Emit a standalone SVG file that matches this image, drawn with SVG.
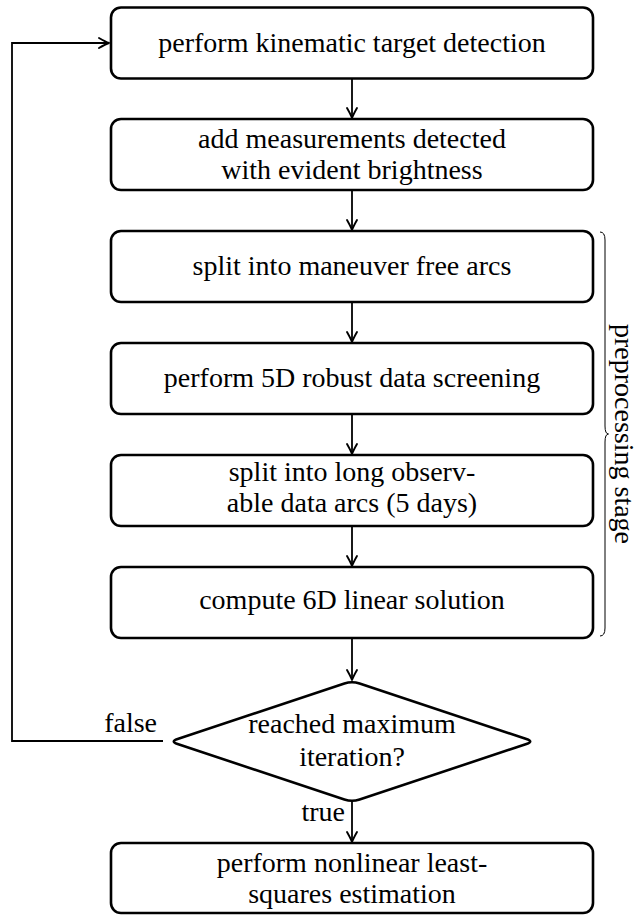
<svg xmlns="http://www.w3.org/2000/svg" width="640" height="916" viewBox="0 0 640 916">
<style>
.box{fill:#fff;stroke:#000;stroke-width:2.6}
.t{font-family:"Liberation Serif","Times New Roman",serif;font-size:28px;fill:#000;text-anchor:middle}
.lbl{font-family:"Liberation Serif","Times New Roman",serif;font-size:28px;fill:#000}
.c{fill:none;stroke:#000;stroke-width:1.8}
</style>
<defs>
<marker id="ah" markerUnits="userSpaceOnUse" viewBox="-12 -7 14 14" markerWidth="14" markerHeight="14" refX="0" refY="0" orient="auto" overflow="visible">
<path d="M -10 -5 Q -3.5 -1.3 0 0 Q -3.5 1.3 -10 5" fill="none" stroke="#000" stroke-width="1.9" stroke-linecap="round" stroke-linejoin="round"/>
</marker>
</defs>
<rect width="640" height="916" fill="#fff"/>
<g id="connectors">
<line class="c" x1="352" y1="78.5" x2="352" y2="118" marker-end="url(#ah)"/>
<line class="c" x1="352" y1="190" x2="352" y2="230" marker-end="url(#ah)"/>
<line class="c" x1="352" y1="302" x2="352" y2="342" marker-end="url(#ah)"/>
<line class="c" x1="352" y1="414" x2="352" y2="454" marker-end="url(#ah)"/>
<line class="c" x1="352" y1="526" x2="352" y2="566" marker-end="url(#ah)"/>
<line class="c" x1="352" y1="638" x2="352" y2="680" marker-end="url(#ah)"/>
<line class="c" x1="352" y1="802" x2="352" y2="842" marker-end="url(#ah)"/>
<path class="c" d="M 163 741 L 12 741 L 12 43 L 109 43" marker-end="url(#ah)"/>
<text class="lbl" x="157" y="732" text-anchor="end">false</text>
<text class="lbl" x="345" y="821" text-anchor="end">true</text>
</g>
<g id="n1"><rect class="box" x="111" y="7.5" width="482" height="71" rx="10"/><text class="t" x="352" y="52">perform kinematic target detection</text></g>
<g id="n2"><rect class="box" x="111" y="119" width="482" height="71" rx="10"/><text class="t" x="352" y="148">add measurements detected</text><text class="t" x="352" y="179">with evident brightness</text></g>
<g id="n3"><rect class="box" x="111" y="231" width="482" height="71" rx="10"/><text class="t" x="352" y="275">split into maneuver free arcs</text></g>
<g id="n4"><rect class="box" x="111" y="343" width="482" height="71" rx="10"/><text class="t" x="352" y="387">perform 5D robust data screening</text></g>
<g id="n5"><rect class="box" x="111" y="455" width="482" height="71" rx="10"/><text class="t" x="352" y="481">split into long observ-</text><text class="t" x="352" y="512">able data arcs (5 days)</text></g>
<g id="n6"><rect class="box" x="111" y="567" width="482" height="71" rx="10"/><text class="t" x="352" y="609">compute 6D linear solution</text></g>
<g id="n7"><path class="box" d="M 344.4 683.5 Q 352 681 359.6 683.5 L 526.4 739 Q 534 741.5 526.4 744 L 359.6 799.5 Q 352 802 344.4 799.5 L 177.6 744 Q 170 741.5 177.6 739 Z"/><text class="t" x="352" y="733">reached maximum</text><text class="t" x="352" y="766">iteration?</text></g>
<g id="n8"><rect class="box" x="111" y="843" width="482" height="70" rx="10"/><text class="t" x="352" y="872">perform nonlinear least-</text><text class="t" x="352" y="903">squares estimation</text></g>
<g id="brace">
<path d="M 600 232 Q 605 232 605 240 L 605 426 Q 605 434 608.5 434 Q 605 434 605 442 L 605 628 Q 605 636 600 636" fill="none" stroke="#000" stroke-width="1"/>
<text class="t" transform="translate(615 434) rotate(90)" x="0" y="0">preprocessing stage</text>
</g>
</svg>
